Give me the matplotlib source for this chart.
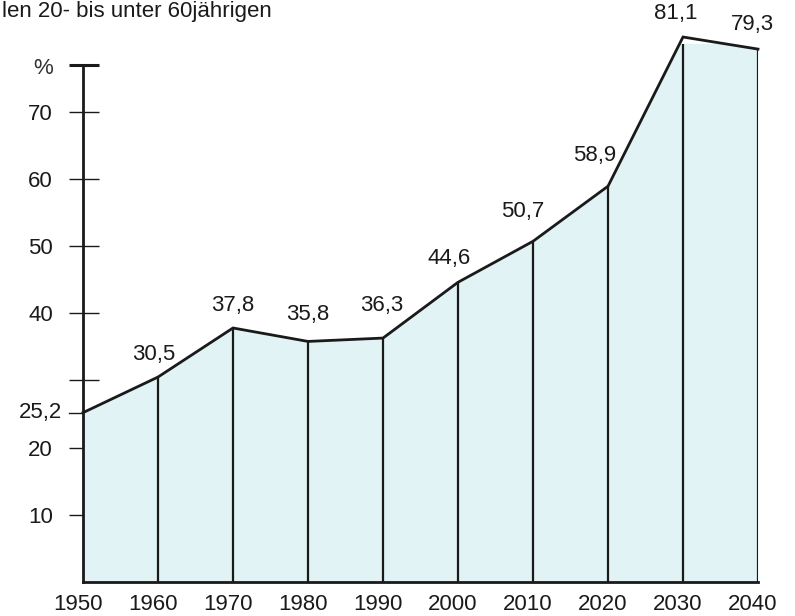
import matplotlib
matplotlib.use("Agg")
import matplotlib.pyplot as plt
from matplotlib.transforms import ScaledTranslation

# ---- data ----
years = [1950, 1960, 1970, 1980, 1990, 2000, 2010, 2020, 2030, 2040]
values = [25.2, 30.5, 37.8, 35.8, 36.3, 44.6, 50.7, 58.9, 81.1, 79.3]
ytick_vals = [10, 20, 30, 40, 50, 60, 70]
ytick_labels = ["10", "20", "", "40", "50", "60", "70"]
title_text = "len 20- bis unter 60jährigen"
unit_label = "%"

# ---- layout / style (not data) ----
label_offsets = [None, (-4, 23), (0, 22), (0, 27), (-1, 33), (-9, 24),
                 (-10, 30), (-13, 31), (-7, 24), (-6, 25)]
W, H = 795, 616
px_per_unit = 6.72
ytop = 80
axis_top = 77
fill_color = "#e1f3f4"
ink = "#1a1a1a"
font = "Liberation Sans"
fs = 16

plt.rcParams["font.family"] = [font, "DejaVu Sans"]

fig = plt.figure(figsize=(W / 100, H / 100), dpi=100)
ax_h = ytop * px_per_unit
ax = fig.add_axes([83 / W, 34 / H, 675 / W, ax_h / H])
ax.set_xlim(years[0], years[-1])
ax.set_ylim(0, ytop)
for s in ax.spines.values():
    s.set_visible(False)
ax.patch.set_alpha(0)

# data units per pixel in x
xu = (years[-1] - years[0]) / 675.0

# tick marks crossing the axis (drawn below the fill)
for v in ytick_vals:
    ax.plot([years[0] - 14 * xu, years[0] + 16 * xu], [v, v], color=ink, lw=1.0,
            zorder=1, clip_on=False, solid_capstyle="butt")
# short tick at first value
ax.plot([years[0] - 14 * xu, years[0]], [values[0], values[0]], color=ink, lw=1.0,
        zorder=1, clip_on=False)
# top cap of axis
ax.plot([years[0] - 14 * xu, years[0] + 16 * xu], [axis_top, axis_top], color=ink,
        lw=2.2, zorder=4, clip_on=False, solid_capstyle="butt")

# filled area
ax.fill_between(years, 0, values, color=fill_color, zorder=2, lw=0)
# vertical lines
ax.vlines(years[1:], 0, values[1:], color=ink, lw=1.6, zorder=3)
# bottom line
ax.plot([years[0], years[-1]], [0, 0], color=ink, lw=2.0, zorder=3,
        solid_capstyle="projecting", clip_on=False)
# y axis line
ax.plot([years[0], years[0]], [0, axis_top], color=ink, lw=2.0, zorder=4,
        solid_capstyle="projecting", clip_on=False)
# data line
ax.plot(years, values, color=ink, lw=2.0, zorder=5, clip_on=False,
        solid_joinstyle="miter")

# y tick labels
ax.set_yticks(ytick_vals)
ax.set_yticklabels(ytick_labels)
ax.tick_params(axis="y", length=0, pad=30 * 0.72, labelsize=fs, labelcolor=ink)
# first value label on axis
ax.annotate(f"{values[0]:.1f}".replace(".", ","), (years[0], values[0]),
            xytext=(-21, 0), textcoords="offset pixels", ha="right", va="center",
            fontsize=fs, color=ink, annotation_clip=False)
# unit label
ax.annotate(unit_label, (years[0], axis_top), xytext=(-30, -4),
            textcoords="offset pixels", ha="right", va="center",
            fontsize=fs, color="#333333", annotation_clip=False)

# x tick labels
ax.set_xticks(years)
ax.set_xticklabels([str(y) for y in years])
ax.tick_params(axis="x", length=0, pad=9, labelsize=fs, labelcolor=ink)
for lab in ax.get_xticklabels():
    lab.set_transform(lab.get_transform() + ScaledTranslation(-5 / 100, 0, fig.dpi_scale_trans))

# value labels
for yr, v, off in zip(years, values, label_offsets):
    if off is None:
        continue
    ax.annotate(f"{v:.1f}".replace(".", ","), (yr, v), xytext=off,
                textcoords="offset pixels", ha="center", va="center",
                fontsize=fs, color=ink, annotation_clip=False)

fig.text(0.002, 1 - 1 / H, title_text, fontsize=16, color=ink, ha="left", va="top")

fig.savefig("out.png", dpi=100)
